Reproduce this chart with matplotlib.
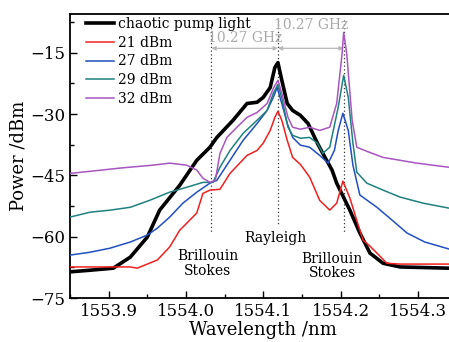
import matplotlib
matplotlib.use("Agg")
import matplotlib.pyplot as plt
from matplotlib.ticker import MultipleLocator

# ---- data ----
wl_black = [1553.850, 1553.876, 1553.906, 1553.928, 1553.950, 1553.966, 1553.992, 1554.014,
            1554.031, 1554.040, 1554.061, 1554.079, 1554.092, 1554.100, 1554.109, 1554.115,
            1554.119, 1554.124, 1554.131, 1554.138, 1554.148, 1554.158, 1554.170, 1554.177,
            1554.182, 1554.189, 1554.195, 1554.212, 1554.225, 1554.238, 1554.255, 1554.277, 1554.340]
p_black = [-68.6, -68.2, -67.7, -65.0, -60.1, -53.5, -47.4, -41.3, -38.1, -35.7, -31.5, -27.4,
           -27.1, -25.9, -23.5, -18.6, -17.4, -21.7, -27.4, -29.1, -30.3, -32.3, -37.1, -39.6,
           -41.3, -43.7, -46.9, -53.5, -59.1, -64.0, -66.5, -67.4, -67.7]

wl_21 = [1553.850, 1553.928, 1553.937, 1553.963, 1553.979, 1553.992, 1554.001, 1554.014,
         1554.022, 1554.031, 1554.044, 1554.057, 1554.079, 1554.092, 1554.100, 1554.109,
         1554.115, 1554.119, 1554.124, 1554.131, 1554.138, 1554.148, 1554.160, 1554.173,
         1554.186, 1554.195, 1554.203, 1554.212, 1554.221, 1554.229, 1554.238, 1554.247,
         1554.260, 1554.277, 1554.340]
p_21 = [-67.4, -67.4, -67.7, -65.7, -62.5, -58.4, -56.7, -54.2, -49.4, -48.6, -48.4, -44.5,
        -40.1, -38.9, -37.1, -34.0, -30.8, -29.3, -31.5, -36.4, -40.6, -42.3, -45.4, -51.1,
        -53.5, -51.8, -46.4, -50.5, -56.0, -60.8, -62.3, -64.0, -66.5, -66.7, -66.7]

wl_27 = [1553.850, 1553.876, 1553.902, 1553.928, 1553.950, 1553.963, 1553.979, 1553.996,
         1554.014, 1554.031, 1554.040, 1554.057, 1554.074, 1554.092, 1554.105, 1554.113,
         1554.118, 1554.124, 1554.131, 1554.138, 1554.148, 1554.160, 1554.173, 1554.184,
         1554.192, 1554.197, 1554.203, 1554.210, 1554.216, 1554.225, 1554.247, 1554.267,
         1554.286, 1554.309, 1554.340]
p_27 = [-64.5, -63.8, -62.8, -61.3, -59.6, -57.9, -55.2, -51.8, -49.1, -46.9, -46.2, -41.3,
        -36.4, -32.3, -29.1, -25.9, -23.5, -27.4, -32.3, -35.7, -37.6, -38.1, -40.1, -42.0,
        -38.9, -34.0, -29.8, -34.0, -42.5, -49.8, -52.8, -56.0, -59.1, -61.3, -63.0]

wl_29 = [1553.850, 1553.876, 1553.902, 1553.928, 1553.953, 1553.979, 1554.001, 1554.022,
         1554.035, 1554.044, 1554.057, 1554.074, 1554.092, 1554.105, 1554.113, 1554.119,
         1554.124, 1554.132, 1554.138, 1554.148, 1554.160, 1554.170, 1554.177, 1554.186,
         1554.197, 1554.204, 1554.210, 1554.216, 1554.221, 1554.234, 1554.255, 1554.277,
         1554.307, 1554.340]
p_29 = [-55.2, -54.0, -53.5, -52.8, -51.1, -49.1, -47.9, -46.7, -46.7, -43.0, -38.9, -34.7,
        -31.5, -29.1, -24.9, -22.7, -26.1, -33.2, -35.2, -35.9, -35.7, -37.1, -39.6, -38.1,
        -28.3, -20.5, -25.9, -37.1, -44.2, -46.9, -48.6, -50.3, -51.8, -53.0]

wl_32 = [1553.850, 1553.876, 1553.915, 1553.957, 1553.979, 1554.001, 1554.014, 1554.022,
         1554.031, 1554.038, 1554.044, 1554.053, 1554.066, 1554.079, 1554.092, 1554.105,
         1554.113, 1554.119, 1554.124, 1554.132, 1554.138, 1554.148, 1554.160, 1554.173,
         1554.186, 1554.195, 1554.202, 1554.204, 1554.208, 1554.215, 1554.221, 1554.234,
         1554.255, 1554.277, 1554.299, 1554.340]
p_32 = [-44.5, -44.0, -43.2, -42.5, -42.0, -42.5, -43.7, -45.7, -46.7, -46.2, -39.6, -35.7,
        -33.2, -30.8, -29.6, -27.4, -23.7, -21.7, -24.9, -30.8, -33.2, -33.7, -33.2, -34.0,
        -33.2, -27.4, -15.2, -10.0, -15.2, -31.5, -38.1, -39.1, -40.6, -41.3, -42.0, -43.0]

labels = ["chaotic pump light", "21 dBm", "27 dBm", "29 dBm", "32 dBm"]
x_ticks = [1553.9, 1554.0, 1554.1, 1554.2, 1554.3]
y_ticks = [-75, -60, -45, -30, -15]
stokes_wl = 1554.033
rayleigh_wl = 1554.119
anti_wl = 1554.204
shift_label = "10.27 GHz"

plt.rcParams['font.family'] = ['DejaVu Serif']
plt.rcParams['mathtext.fontset'] = 'dejavuserif'

fig = plt.figure(figsize=(4.49, 3.42), dpi=100)
ax = fig.add_axes([70/449, 44/342, 386.5/449, 284/342])

ax.plot(wl_black, p_black, color='black', lw=2.6, label=labels[0], zorder=3)
ax.plot(wl_21, p_21, color='#f02020', lw=1.1, label=labels[1], zorder=4)
ax.plot(wl_27, p_27, color='#2050c0', lw=1.1, label=labels[2], zorder=4)
ax.plot(wl_29, p_29, color='#1f8080', lw=1.1, label=labels[3], zorder=4)
ax.plot(wl_32, p_32, color='#a855c0', lw=1.1, label=labels[4], zorder=4)

# dotted guide lines
ax.plot([stokes_wl, stokes_wl], [-7.0, -59.1], ls=(0, (1, 2)), color='#333333', lw=0.9, zorder=2)
ax.plot([rayleigh_wl, rayleigh_wl], [-7.0, -57.4], ls=(0, (1, 2)), color='#333333', lw=0.9, zorder=2)
ax.plot([anti_wl, anti_wl], [-7.0, -59.1], ls=(0, (1, 2)), color='#333333', lw=0.9, zorder=2)

# arrows
arrow_kw = dict(arrowstyle='<|-|>', color='#b8b8b8', lw=0.9, mutation_scale=6, shrinkA=0, shrinkB=0)
ax.annotate('', xy=(stokes_wl, -13.9), xytext=(rayleigh_wl, -13.9), arrowprops=arrow_kw)
ax.annotate('', xy=(rayleigh_wl, -13.9), xytext=(anti_wl, -13.9), arrowprops=arrow_kw)
ax.text((stokes_wl + rayleigh_wl) / 2 + 0.001, -11.4, shift_label, color='#aaaaaa', fontsize=10,
        ha='center', va='center')
ax.text((rayleigh_wl + anti_wl) / 2 + 0.001, -8.3, shift_label, color='#aaaaaa', fontsize=10,
        ha='center', va='center')

ax.text(1554.0285, -66.6, "Brillouin\nStokes", fontsize=10, ha='center', va='center', linespacing=1.05)
ax.text(1554.116, -60.3, "Rayleigh", fontsize=10, ha='center', va='center')
ax.text(1554.189, -67.2, "Brillouin\nStokes", fontsize=10, ha='center', va='center', linespacing=1.05)

ax.set_xlim(1553.85, 1554.35)
ax.set_ylim(-75, -5.5)
ax.set_xticks(x_ticks)
ax.set_xticklabels([f"{v:.1f}" for v in x_ticks])
ax.set_yticks(y_ticks)
ax.set_yticklabels([f"\u2212{abs(v)}" for v in y_ticks])
ax.xaxis.set_minor_locator(MultipleLocator(0.05))
ax.yaxis.set_minor_locator(MultipleLocator(7.5))
ax.tick_params(which='both', direction='in', top=False, right=False, labelsize=12, width=1.0)
ax.tick_params(which='major', length=5)
ax.tick_params(which='minor', length=3)
for s in ax.spines.values():
    s.set_linewidth(1.3)

ax.set_xlabel("Wavelength /nm", fontsize=13, labelpad=1)
ax.set_ylabel("Power /dBm", fontsize=13, labelpad=2)

leg = ax.legend(loc='upper left', frameon=False, fontsize=10, handlelength=2.0,
                handletextpad=0.3, labelspacing=0.35, borderaxespad=0.2,
                bbox_to_anchor=(0.02, 1.02))

fig.savefig("out.png", dpi=100)
